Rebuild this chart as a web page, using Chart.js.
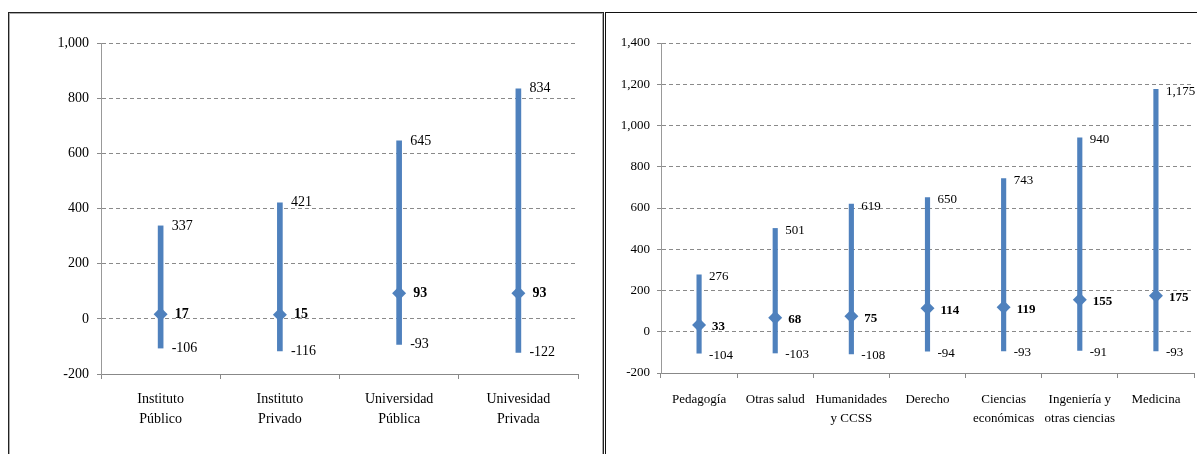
<!DOCTYPE html>
<html>
<head>
<meta charset="utf-8">
<script src="https://cdn.jsdelivr.net/npm/chart.js@4.4.1/dist/chart.umd.min.js"></script>
<style>
  html, body { margin: 0; padding: 0; background: #fff; }
  body { width: 1201px; height: 454px; overflow: hidden; position: relative; }
  .panel { position: absolute; top: 12px; height: 460px; box-sizing: border-box; }
  #panelLeft { left: 8px; width: 596px; border: 1px solid #222; box-shadow: inset 1px 1px 0 #aaa, inset -1px 0 0 #aaa; }
  #panelRight { left: 605px; width: 592px; border-left: 1px solid #111; border-top: 1px solid #111; }
  canvas { position: absolute; }
  #leftChart { left: 10px; top: 14px; }
  #rightChart { left: 606px; top: 14px; }
</style>
</head>
<body>
<div class="panel" id="panelLeft"></div>
<div class="panel" id="panelRight"></div>
<canvas id="leftChart" width="590" height="440" style="width:590px;height:440px"></canvas>
<canvas id="rightChart" width="595" height="440" style="width:595px;height:440px"></canvas>
<script>
// left chart: tipo de institución
const leftCategories = [["Instituto", "Público"], ["Instituto", "Privado"], ["Universidad", "Pública"], ["Univesidad", "Privada"]];
const leftHigh = [337, 421, 645, 834];
const leftMean = [17, 15, 93, 93];
const leftLow = [-106, -116, -93, -122];
const leftTicks = { min: -200, max: 1000, step: 200 };

// right chart: área de estudio
const rightCategories = ["Pedagogía", "Otras salud", ["Humanidades", "y CCSS"], "Derecho", ["Ciencias", "económicas"], ["Ingeniería y", "otras ciencias"], "Medicina"];
const rightHigh = [276, 501, 619, 650, 743, 940, 1175];
const rightMean = [33, 68, 75, 114, 119, 155, 175];
const rightLow = [-104, -103, -108, -94, -93, -91, -93];
const rightTicks = { min: -200, max: 1400, step: 200 };

const BLUE = "#4F81BD";
const SERIF = "'Liberation Serif', 'Times New Roman', serif";

function fmt(v) {
  return Number(v).toLocaleString("en-US");
}

// draws the max / mean / min labels next to each range line
function rangeLabels(high, mean, low, o) {
  return {
    id: "rangeLabels",
    afterDatasetsDraw(chart) {
      const ctx = chart.ctx;
      const xs = chart.scales.x, ys = chart.scales.y;
      ctx.save();
      ctx.fillStyle = "#000";
      ctx.textAlign = "left";
      ctx.textBaseline = "middle";
      for (let i = 0; i < mean.length; i++) {
        const x = xs.getPixelForValue(i);
        ctx.font = o.size + "px " + SERIF;
        ctx.fillText(fmt(high[i]), x + o.dx, ys.getPixelForValue(high[i]) + o.dy);
        ctx.fillText(fmt(low[i]), x + o.dx, ys.getPixelForValue(low[i]) + o.dy);
        ctx.font = "bold " + o.size + "px " + SERIF;
        ctx.fillText(fmt(mean[i]), x + o.dxMean, ys.getPixelForValue(mean[i]) + o.dy);
      }
      ctx.restore();
    }
  };
}

function makeChart(id, cats, high, mean, low, tk, o) {
  new Chart(document.getElementById(id), {
    data: {
      labels: cats,
      datasets: [
        {
          type: "line",
          data: mean,
          showLine: false,
          pointStyle: "rectRot",
          pointRadius: o.pointRadius,
          pointHoverRadius: o.pointRadius,
          pointBackgroundColor: BLUE,
          pointBorderWidth: 0,
          order: 1,
        },
        {
          type: "bar",
          data: low.map((l, i) => [l, high[i]]),
          backgroundColor: BLUE,
          borderWidth: 0,
          barThickness: o.barWidth,
          order: 2,
        },
      ],
    },
    options: {
      responsive: false,
      animation: false,
      events: [],
      layout: { padding: { top: 29, right: o.padRight, left: 0, bottom: 0 } },
      plugins: { legend: { display: false }, tooltip: { enabled: false } },
      scales: {
        x: {
          offset: true,
          grid: { offset: true, drawOnChartArea: false, drawTicks: true, tickLength: 5, color: "#888" },
          border: { color: "#888", width: 1 },
          ticks: {
            color: "#000",
            padding: o.xPad,
            maxRotation: 0,
            autoSkip: false,
            font: { family: SERIF, size: o.size, lineHeight: o.lineHeight + "px" },
          },
          afterFit(s) { s.height = o.xHeight; },
        },
        y: {
          min: tk.min,
          max: tk.max,
          grid: { color: "#8a8a8a", tickLength: 4, tickColor: "#8a8a8a" },
          border: { color: "#999", width: 1, dash: [4, 3] },
          ticks: {
            stepSize: tk.step,
            color: "#000",
            padding: o.yPad,
            font: { family: SERIF, size: o.size },
            callback: (v) => fmt(v),
          },
          afterFit(s) { s.width = o.yWidth; },
        },
      },
    },
    plugins: [rangeLabels(high, mean, low, o)],
  });
}

makeChart("leftChart", leftCategories, leftHigh, leftMean, leftLow, leftTicks, {
  size: 14, lineHeight: 20, xPad: 10, xHeight: 80, yWidth: 91, yPad: 8, padRight: 22,
  barWidth: 5, pointRadius: 7, dx: 11, dxMean: 14, dy: 0,
});

makeChart("rightChart", rightCategories, rightHigh, rightMean, rightLow, rightTicks, {
  size: 13, lineHeight: 19, xPad: 12, xHeight: 81, yWidth: 55, yPad: 7, padRight: 3,
  barWidth: 4.5, pointRadius: 7, dx: 10, dxMean: 13, dy: 2,
});
</script>
</body>
</html>
